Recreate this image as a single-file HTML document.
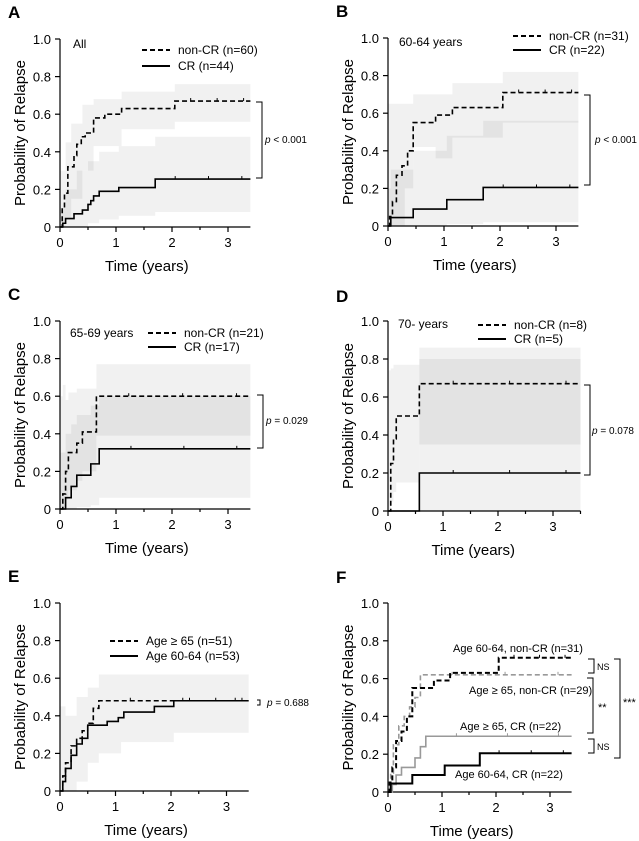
<!DOCTYPE html>
<html><head><meta charset="utf-8"><style>
body{margin:0;background:#fff;}
svg{display:block;font-family:"Liberation Sans",Arial,sans-serif;}
</style></head><body>
<svg id="fig" width="639" height="841" viewBox="0 0 639 841"></svg>
<script>
// ---- data (times in years, cumulative probability) ----
const aNonT=[0,0.04,0.08,0.14,0.25,0.3,0.38,0.45,0.6,0.8,1.1,2.05];
const aNonV=[0,0.1,0.18,0.32,0.38,0.44,0.48,0.5,0.58,0.6,0.63,0.67];
const aNonBandT=[0,0.1,0.2,0.4,0.6,1.1,2.05];
const aNonUp=[0.3,0.45,0.55,0.65,0.68,0.72,0.76];
const aNonLo=[0,0.05,0.15,0.3,0.43,0.52,0.56];
const aCrT=[0,0.05,0.1,0.25,0.4,0.5,0.55,0.6,0.7,1.05,1.7];
const aCrV=[0,0.02,0.045,0.07,0.09,0.12,0.14,0.165,0.19,0.21,0.255];
const aCrBandT=[0,0.1,0.3,0.5,0.7,1.05,1.7];
const aCrUp=[0.1,0.2,0.3,0.35,0.4,0.43,0.48];
const aCrLo=[0,0,0,0.02,0.04,0.06,0.08];

const bNonT=[0,0.03,0.08,0.15,0.25,0.35,0.45,0.85,1.15,2.05];
const bNonV=[0,0.05,0.13,0.27,0.32,0.4,0.55,0.59,0.63,0.71];
const bNonBandT=[0,0.3,0.45,0.85,1.15,2.05];
const bNonUp=[0.65,0.65,0.7,0.7,0.76,0.82];
const bNonLo=[0,0.2,0.42,0.36,0.47,0.55];
const bCrT=[0,0.05,0.45,1.05,1.7];
const bCrV=[0,0.045,0.09,0.14,0.205];
const bCrBandT=[0,0.05,0.45,1.05,1.7];
const bCrUp=[0.2,0.3,0.4,0.48,0.56];
const bCrLo=[0,0,0,0.01,0.02];

const cNonT=[0,0.05,0.1,0.15,0.3,0.4,0.65];
const cNonV=[0,0.08,0.2,0.3,0.35,0.41,0.6];
const cNonUp=[0.6,0.66,0.58,0.62,0.64,0.64,0.77];
const cNonLo=[0,0,0.05,0.1,0.15,0.2,0.39];
const cCrT=[0,0.1,0.2,0.3,0.55,0.7];
const cCrV=[0,0.06,0.12,0.18,0.24,0.32];
const cCrUp=[0.3,0.4,0.45,0.5,0.55,0.6];
const cCrLo=[0,0,0,0.01,0.02,0.06];

const dNonT=[0,0.05,0.1,0.15,0.57];
const dNonV=[0,0.25,0.38,0.5,0.67];
const dNonUp=[0.74,0.75,0.77,0.77,0.86];
const dNonLo=[0,0.05,0.1,0.15,0.35];
const dCrT=[0,0.57];
const dCrV=[0,0.2];
const dCrUp=[0,0.8];
const dCrLo=[0,0];

const eOldT=[0,0.05,0.1,0.2,0.3,0.4,0.5,0.6,0.7];
const eOldV=[0,0.08,0.15,0.24,0.28,0.32,0.36,0.44,0.48];
const eYoungT=[0,0.05,0.1,0.2,0.3,0.4,0.5,0.85,1.05,1.15,1.7,2.05];
const eYoungV=[0,0.05,0.12,0.19,0.25,0.28,0.35,0.37,0.39,0.42,0.45,0.48];
const eBandT=[0,0.1,0.3,0.5,0.7,1.1,2.05];
const eUp=[0.45,0.4,0.5,0.55,0.62,0.62,0.62];
const eLo=[0,0,0.05,0.15,0.2,0.26,0.31];

const fOldNonT=[0,0.05,0.1,0.2,0.3,0.4,0.5,0.6];
const fOldNonV=[0,0.1,0.25,0.35,0.4,0.45,0.5,0.62];
const fOldCrT=[0,0.08,0.15,0.25,0.5,0.6,0.7];
const fOldCrV=[0,0.04,0.09,0.13,0.18,0.24,0.295];

const yTicks=[0,0.2,0.4,0.6,0.8,1.0];
const yTickLabels=["0","0.2","0.4","0.6","0.8","1.0"];
const xTicks=[0,1,2,3];

const svg=document.getElementById('fig');
const NS='http://www.w3.org/2000/svg';
function mk(tag,attrs,parent,txt){const e=document.createElementNS(NS,tag);for(const k in attrs)e.setAttribute(k,attrs[k]);if(txt!==undefined)e.textContent=txt;(parent||svg).appendChild(e);return e;}

function panel(name,letter,ox,oy,sx,sy,xmax){
  const g=mk('g',{});
  
  
  const X=t=>ox+t*sx, Y=v=>oy-v*sy;
  const P={g,X,Y,xmax};
  const lt=mk('text',{x:ox-52,y:oy-209,'font-size':17,'font-weight':'bold'},g,letter);
  
  
  return P;
}
function axes(P){
  const {g,X,Y,xmax}=P;
  const ax=mk('g',{stroke:'#000','stroke-width':1.2},g);
  
  
  mk('line',{x1:X(0),y1:Y(0),x2:X(0),y2:Y(1)},ax);
  mk('line',{x1:X(0),y1:Y(0),x2:X(xmax),y2:Y(0)},ax);
  yTicks.forEach((v,i)=>{
    mk('line',{x1:X(0)-5,y1:Y(v),x2:X(0),y2:Y(v)},ax);
    const t=mk('text',{x:X(0)-9,y:Y(v)+5,'font-size':13,'text-anchor':'end',stroke:'none'},g,yTickLabels[i]);
    
    
  });
  for(let h=0;h<=xmax;h+=0.5){mk('line',{x1:X(h),y1:Y(0),x2:X(h),y2:Y(0)+(h%1?3:5)},ax);}
  xTicks.forEach(v=>{
    const t=mk('text',{x:X(v),y:Y(0)+20,'font-size':13,'text-anchor':'middle'},g,String(v));
    
    
  });
  const xt=mk('text',{x:X(1.55),y:Y(0)+44,'font-size':15,'text-anchor':'middle'},g,'Time (years)');
  
  
  const cy=Y(0.5);
  const yt=mk('text',{x:X(0)-35,y:cy,'font-size':15,'text-anchor':'middle',transform:`rotate(-90 ${X(0)-35} ${cy})`},g,'Probability of Relapse');
  
  
}
function band(P,T,up,lo){
  const {g,X,Y,xmax}=P;
  let d='M'+X(T[0])+','+Y(up[0]);
  for(let i=0;i<T.length;i++){const tn=i+1<T.length?T[i+1]:xmax;d+=` L${X(T[i])},${Y(up[i])} L${X(tn)},${Y(up[i])}`;}
  for(let i=T.length-1;i>=0;i--){const tn=i+1<T.length?T[i+1]:xmax;d+=` L${X(tn)},${Y(lo[i])} L${X(T[i])},${Y(lo[i])}`;}
  const p=mk('path',{d:d+'Z',fill:'#000','fill-opacity':0.055,stroke:'none'},g);
  
  
}
function curve(P,T,V,dashed,color,w,nm){
  const {g,X,Y,xmax}=P;
  let d=`M${X(T[0])},${Y(V[0])}`;
  for(let i=0;i<T.length;i++){const tn=i+1<T.length?T[i+1]:xmax;d+=` L${X(T[i])},${Y(V[i])} L${X(tn)},${Y(V[i])}`;}
  const a={d,fill:'none',stroke:color,'stroke-width':w};
  if(dashed)a['stroke-dasharray']='5,3';
  const p=mk('path',a,g);
  
  
  const last=V[V.length-1], t0=T[T.length-1];
  [0.3,0.8,1.3].forEach(f=>{const tt=t0+(xmax-t0)*f*0.7;mk('line',{x1:X(tt),y1:Y(last),x2:X(tt),y2:Y(last)-3,stroke:color,'stroke-width':1},g);});
}
function txt(P,x,y,s,size,nm,extra){const t=mk('text',Object.assign({x,y,'font-size':size},extra||{}),P.g,s);return t;}
function legend(P,x,y,label,dashed,nm){
  const l=mk('line',{x1:x,y1:y,x2:x+28,y2:y,stroke:'#000','stroke-width':2},P.g);
  if(dashed)l.setAttribute('stroke-dasharray','5,3');
  
  
  txt(P,x+36,y+4,label,12,nm);
}
function bracket(P,x,y1,y2,w,nm){
  const p=mk('path',{d:`M${x-w},${y1} H${x} V${y2} H${x-w}`,fill:'none',stroke:'#000','stroke-width':1},P.g);
  
  
}
function pval(P,x,y,rest){const t=txt(P,x,y,'',10,'p-value');mk('tspan',{'font-style':'italic'},t,'p');mk('tspan',{},t,rest);}

// Panel A
let P=panel('a','A',60,227,56,188,3.4);
band(P,aNonBandT,aNonUp,aNonLo);band(P,aCrBandT,aCrUp,aCrLo);axes(P);
curve(P,aNonT,aNonV,true,'#000',1.6,'non-cr-curve');curve(P,aCrT,aCrV,false,'#000',1.6,'cr-curve');
txt(P,73,48,'All',12,'subgroup-label');
legend(P,142,50,'non-CR (n=60)',true,'legend-non-cr');legend(P,142,66,'CR (n=44)',false,'legend-cr');
bracket(P,262,102,178,6,'significance-bracket');pval(P,265,143,' < 0.001');

// Panel B
P=panel('b','B',388,226,56,188,3.4);
band(P,bNonBandT,bNonUp,bNonLo);band(P,bCrBandT,bCrUp,bCrLo);axes(P);
curve(P,bNonT,bNonV,true,'#000',1.6,'non-cr-curve');curve(P,bCrT,bCrV,false,'#000',1.6,'cr-curve');
txt(P,399,46,'60-64 years',12,'subgroup-label');
legend(P,513,36,'non-CR (n=31)',true,'legend-non-cr');legend(P,513,50,'CR (n=22)',false,'legend-cr');
bracket(P,590,95,185,6,'significance-bracket');pval(P,595,143,' < 0.001');

// Panel C
P=panel('c','C',60,509,56,188,3.4);
band(P,cNonT,cNonUp,cNonLo);band(P,cCrT,cCrUp,cCrLo);axes(P);
curve(P,cNonT,cNonV,true,'#000',1.6,'non-cr-curve');curve(P,cCrT,cCrV,false,'#000',1.6,'cr-curve');
txt(P,70,337,'65-69 years',12,'subgroup-label');
legend(P,148,333,'non-CR (n=21)',true,'legend-non-cr');legend(P,148,347,'CR (n=17)',false,'legend-cr');
bracket(P,263,395,448,6,'significance-bracket');pval(P,266,424,' = 0.029');

// Panel D
P=panel('d','D',388,511,55,190,3.5);
band(P,dNonT,dNonUp,dNonLo);band(P,dCrT,dCrUp,dCrLo);axes(P);
curve(P,dNonT,dNonV,true,'#000',1.6,'non-cr-curve');curve(P,dCrT,dCrV,false,'#000',1.6,'cr-curve');
txt(P,398,328,'70- years',12,'subgroup-label');
legend(P,478,325,'non-CR (n=8)',true,'legend-non-cr');legend(P,478,339,'CR (n=5)',false,'legend-cr');
bracket(P,590,385,475,6,'significance-bracket');pval(P,592,434,' = 0.078');

// Panel E
P=panel('e','E',60,791,55.5,188,3.4);
band(P,eBandT,eUp,eLo);axes(P);
curve(P,eOldT,eOldV,true,'#000',1.6,'age-65-plus-curve');curve(P,eYoungT,eYoungV,false,'#000',1.6,'age-60-64-curve');
legend(P,110,641,'Age ≥ 65 (n=51)',true,'legend-age-65-plus');legend(P,110,656,'Age 60-64 (n=53)',false,'legend-age-60-64');
bracket(P,260,700,705,3,'significance-bracket');pval(P,267,706,' = 0.688');

// Panel F
P=panel('f','F',388,792,54,189,3.4);
axes(P);
curve(P,fOldNonT,fOldNonV,true,'#999',1.6,'age-65-plus-non-cr-curve');
curve(P,fOldCrT,fOldCrV,false,'#999',1.6,'age-65-plus-cr-curve');
curve(P,bNonT,bNonV,true,'#000',2,'age-60-64-non-cr-curve');
curve(P,bCrT,bCrV,false,'#000',2,'age-60-64-cr-curve');
txt(P,453,652,'Age 60-64, non-CR (n=31)',11,'label-60-64-non-cr');
txt(P,469,694,'Age ≥ 65, non-CR (n=29)',11,'label-65-plus-non-cr');
txt(P,460,730,'Age ≥ 65, CR (n=22)',11,'label-65-plus-cr');
txt(P,455,778,'Age 60-64, CR (n=22)',11,'label-60-64-cr');
bracket(P,594,659,673,6,'bracket-ns-top');txt(P,597,670,'NS',9,'ns-label');
bracket(P,593,678,733,6,'bracket-double-star');txt(P,598,711,'**',11,'double-star-label');
bracket(P,594,739,753,6,'bracket-ns-bottom');txt(P,597,750,'NS',9,'ns-label');
bracket(P,620,659,758,6,'bracket-triple-star');txt(P,623,706,'***',11,'triple-star-label');
</script>
</body></html>
